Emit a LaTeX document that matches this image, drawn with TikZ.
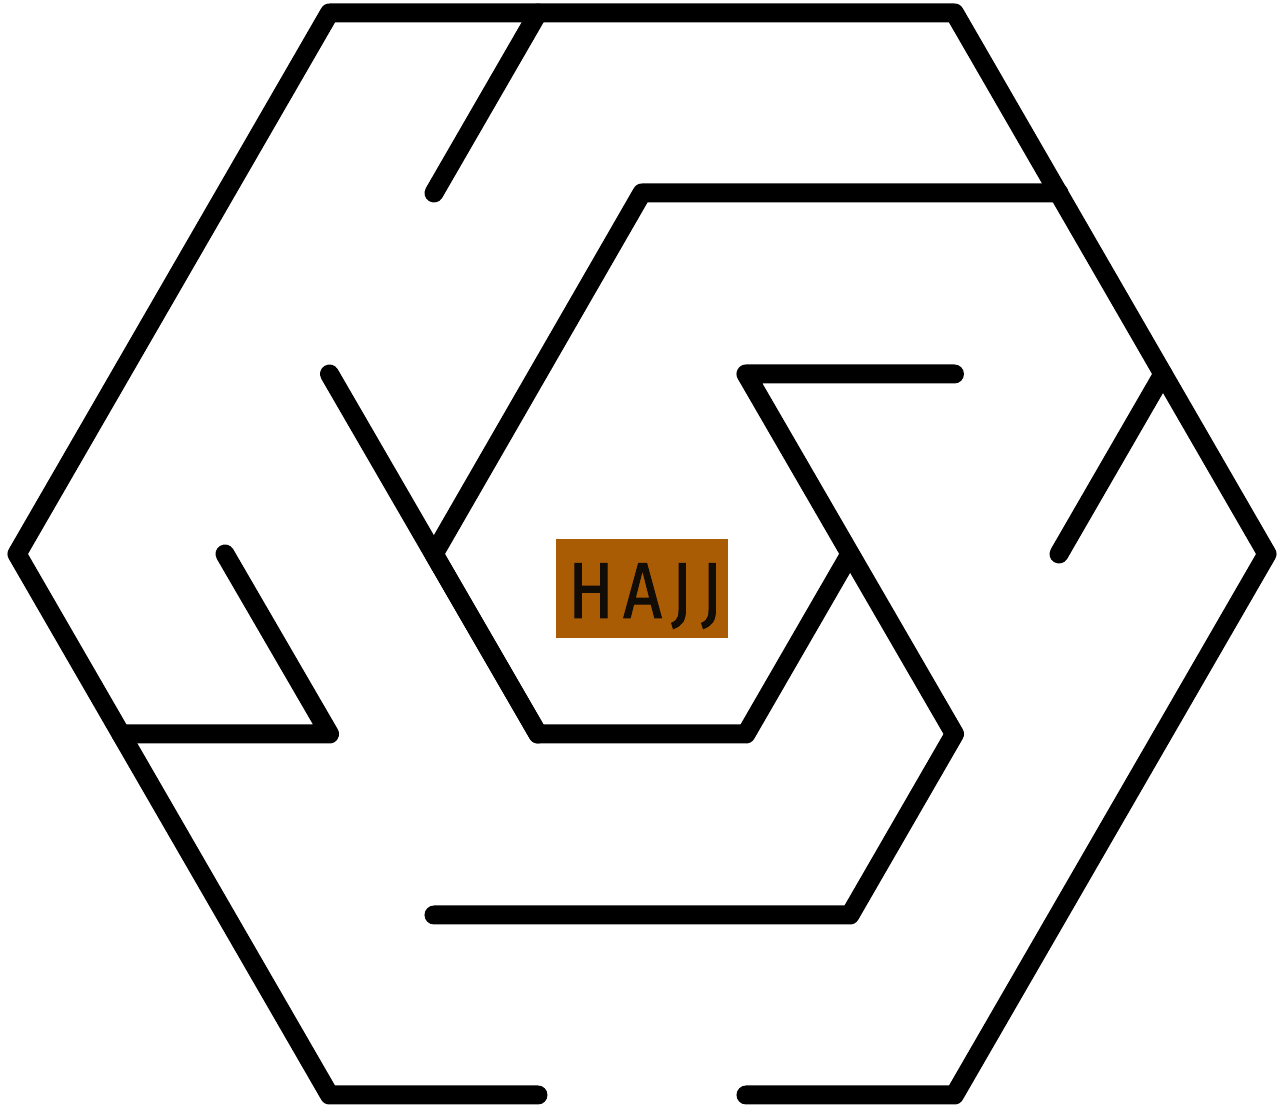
\documentclass[tikz,border=0pt]{standalone}
\usepackage{fontspec}
\newfontfamily\hajjfont[FakeStretch=0.85, FakeBold=1.3, LetterSpace=12]{Fira Sans}
\definecolor{hajjbrown}{RGB}{170,92,4}
\definecolor{hajjink}{RGB}{18,12,6}

\begin{document}
\begin{tikzpicture}[wall/.style={line width=0.19cm, line cap=round, line join=round}]
    \useasboundingbox (-6.42,-5.52) rectangle (6.39,5.54);
    % Outer wall
    \draw[wall] (-1.04,-5.41) -- (-3.125,-5.41) -- (-6.25,0) -- (-3.125,5.41) -- (3.125,5.41) -- (6.25,0) -- (3.125,-5.41) -- (1.04,-5.41);
    
    % Inner walls
    \draw[wall] (-1.04,5.41) -- (-2.08,3.61);
    \draw[wall] (4.17,3.61) -- (0,3.61) -- (-2.08,0) -- (-1.04,-1.80) -- (1.04,-1.80) -- (2.08,0);
    \draw[wall] (-3.125,1.80) -- (-1.04,-1.80);
    \draw[wall] (3.125,1.80) -- (1.04,1.80) -- (3.125,-1.80) -- (2.08,-3.61) -- (-2.08,-3.61);
    \draw[wall] (5.21,1.80) -- (4.17,0);
    \draw[wall] (-4.17,0) -- (-3.125,-1.80) -- (-5.21,-1.80);
    
    % Label
    \node[fill=hajjbrown, minimum width=1.72cm, minimum height=0.99cm, inner sep=0pt] (hajj) at (0.0,-0.35) {};
    \node[text=hajjink, font=\hajjfont\fontsize{22.5}{22.5}\selectfont, inner sep=0pt] (hajjtext) at (0.03,-0.42) {HAJJ};
\end{tikzpicture}
\end{document}
